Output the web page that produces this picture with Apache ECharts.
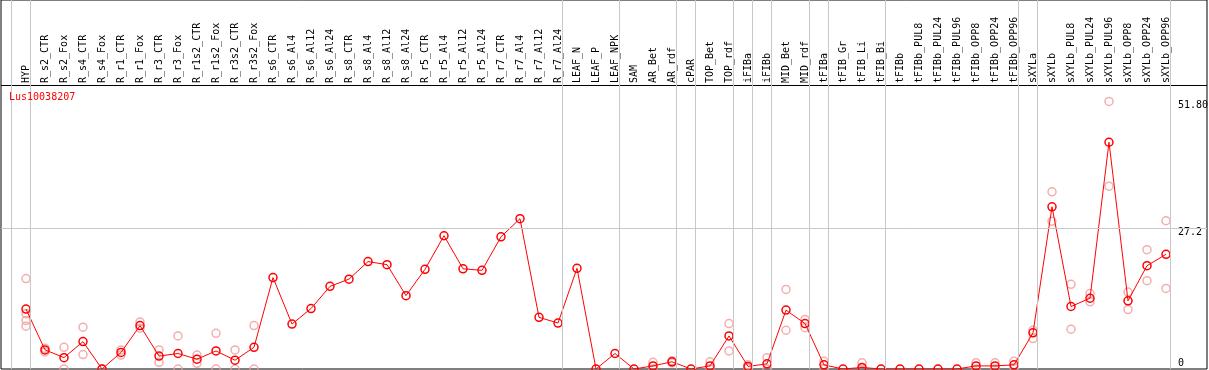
<!DOCTYPE html>
<html>
<head>
<meta charset="utf-8">
<title>Lus10038207</title>
<script src="https://cdn.jsdelivr.net/npm/echarts@6/dist/echarts.min.js"></script>
<style>
  html, body { margin: 0; padding: 0; background: #fff; }
  #chart { width: 1209px; height: 370px; }
</style>
</head>
<body>
<div id="chart"></div>
<script>
// sample names along the top
const categories = [
  "HYP", "R_s2_CTR", "R_s2_Fox", "R_s4_CTR", "R_s4_Fox", "R_r1_CTR", "R_r1_Fox",
  "R_r3_CTR", "R_r3_Fox", "R_r1s2_CTR", "R_r1s2_Fox", "R_r3s2_CTR", "R_r3s2_Fox",
  "R_s6_CTR", "R_s6_Al4", "R_s6_Al12", "R_s6_Al24", "R_s8_CTR", "R_s8_Al4", "R_s8_Al12",
  "R_s8_Al24", "R_r5_CTR", "R_r5_Al4", "R_r5_Al12", "R_r5_Al24", "R_r7_CTR", "R_r7_Al4",
  "R_r7_Al12", "R_r7_Al24", "LEAF_N", "LEAF_P", "LEAF_NPK", "SAM", "AR_Bet", "AR_rdf",
  "cPAR", "TOP_Bet", "TOP_rdf", "iFIBa", "iFIBb", "MID_Bet", "MID_rdf", "tFIBa",
  "tFIB_Gr", "tFIB_Li", "tFIB_Bi", "tFIBb", "tFIBb_PUL8", "tFIBb_PUL24", "tFIBb_PUL96",
  "tFIBb_OPP8", "tFIBb_OPP24", "tFIBb_OPP96", "sXYLa", "sXYLb", "sXYLb_PUL8",
  "sXYLb_PUL24", "sXYLb_PUL96", "sXYLb_OPP8", "sXYLb_OPP24", "sXYLb_OPP96"
];

// mean expression (red line)
const meanValues = [
  11.6, 3.7, 2.2, 5.3, 0, 3.2, 8.4, 2.5, 3.0, 1.9, 3.5, 1.7, 4.2,
  17.7, 8.7, 11.7, 16.0, 17.4, 20.8, 20.2, 14.2, 19.3, 25.8, 19.4, 19.1, 25.6, 29.1,
  10.0, 8.9, 19.5, 0, 3.0, 0, 0.6, 1.4, 0, 0.6, 6.4, 0.5, 1.0, 11.4, 8.8, 0.8,
  0, 0.3, 0, 0, 0, 0, 0, 0.6, 0.6, 0.8, 7.0, 31.4, 12.1, 13.7, 43.9, 13.2, 20.0, 22.2
];

// single replicates (pale circles)
const replicates = [
  [17.5, 10.7, 9.4, 8.3], [4.0, 3.3], [4.2, 0], [8.1, 2.8], [0, 0], [3.7, 2.7], [9.1, 7.9],
  [3.7, 1.3], [6.4, 0], [2.7, 1.1], [6.9, 0], [3.7, 0], [8.4, 0],
  [], [], [], [], [], [], [], [], [], [], [], [], [], [], [], [], [],
  [], [], [], [1.3, 0], [1.6, 1.2], [], [1.4, 0], [8.8, 3.5], [0.8, 0.2], [2.2, 0],
  [15.4, 7.5], [9.6, 8.0], [1.5, 0], [], [1.2, 0], [], [], [], [], [],
  [1.2, 0], [1.2, 0], [1.5, 0.3], [7.5, 5.9], [34.3, 28.6], [16.4, 7.7], [14.6, 13.0],
  [51.8, 35.4], [14.9, 11.5], [23.1, 17.1], [28.7, 15.6]
];

// last sample of each tissue group (gray separators drawn after them)
const groupEnds = [-1, 0, 28, 31, 34, 35, 37, 38, 39, 41, 42, 45, 52, 53, 60];

const tickValues = [0, 27.2, 51.8];
const tickLabels = ["0", "27.2", "51.80"];

const mono = "DejaVu Sans Mono";
const chart = echarts.init(document.getElementById("chart"));

const lineData = meanValues.map((v, i) => [i, v]);
const repData = [];
replicates.forEach((reps, i) => reps.forEach(v => repData.push([i, v])));

const marks = [
  { yAxis: 27.2, lineStyle: { color: "#c8c8c8" } },
  { yAxis: 54.89, lineStyle: { color: "#000" } } // separates the label header
].concat(groupEnds.map(k => ({ xAxis: k + 0.237, lineStyle: { color: "#c8c8c8" } })));

const option = {
  animation: false,
  backgroundColor: "#fff",
  title: {
    text: "Lus10038207",
    left: 9,
    top: 92,
    padding: 0,
    textStyle: { color: "#ff0000", fontFamily: mono, fontSize: 10, fontWeight: "normal" }
  },
  grid: {
    left: 1,
    right: 2,
    top: 0,
    bottom: 1,
    outerBoundsMode: "none",
    show: true,
    borderColor: "#000",
    borderWidth: 1,
    backgroundColor: "transparent"
  },
  xAxis: {
    type: "value",
    position: "top",
    min: -25 / 19,
    max: 1181 / 19,
    axisLine: { show: false },
    axisTick: { show: false },
    splitLine: { show: false },
    axisLabel: {
      customValues: categories.map((c, i) => i),
      formatter: v => categories[v],
      inside: true,
      margin: 83,
      rotate: 90,
      align: "left",
      color: "#000",
      fontFamily: mono,
      fontSize: 10
    }
  },
  yAxis: {
    type: "value",
    position: "right",
    min: 0,
    max: 71.44,
    axisLine: { show: false },
    axisTick: { show: false },
    splitLine: { show: false },
    axisLabel: {
      customValues: tickValues,
      formatter: v => {
        const t = tickLabels[tickValues.indexOf(v)];
        return v === 0 ? "{up|" + t + "}" : "{dn|" + t + "}";
      },
      inside: true,
      margin: 29,
      align: "left",
      color: "#000",
      fontFamily: mono,
      fontSize: 10,
      rich: {
        up: { fontFamily: mono, fontSize: 10, color: "#000", padding: [0, 0, 12, 0] },
        dn: { fontFamily: mono, fontSize: 10, color: "#000", padding: [8, 0, 0, 0] }
      }
    }
  },
  series: [
    {
      name: "replicates",
      type: "scatter",
      data: repData,
      symbol: "circle",
      symbolSize: 8,
      z: 2,
      itemStyle: { color: "transparent", borderColor: "#f09a9a", borderWidth: 1.5 },
      silent: true
    },
    {
      name: "Lus10038207",
      type: "line",
      data: lineData,
      symbol: "circle",
      symbolSize: 8,
      showAllSymbol: true,
      z: 3,
      lineStyle: { color: "#ff0000", width: 1 },
      itemStyle: { color: "transparent", borderColor: "#ff0000", borderWidth: 1.5 },
      markLine: {
        silent: true,
        symbol: "none",
        label: { show: false },
        lineStyle: { type: "solid", width: 1 },
        data: marks
      }
    }
  ]
};

chart.setOption(option);

window.addEventListener("resize", () => {
  chart.resize();
});
</script>
</body>
</html>
